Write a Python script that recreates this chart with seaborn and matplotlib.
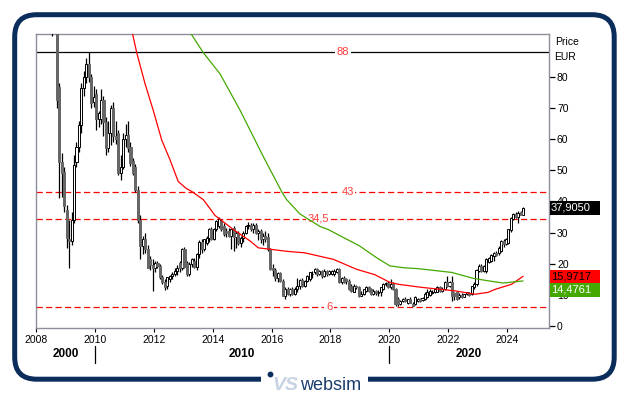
import numpy as np
import pandas as pd
import matplotlib
matplotlib.use("Agg")
import matplotlib.pyplot as plt
import matplotlib.transforms as mtransforms
from matplotlib.patches import FancyBboxPatch, Rectangle
import seaborn as sns

# monthly candles, Jul 2008 .. Jul 2024 (EUR)
first_month = "2008-07"
opens = [
    112, 108, 101, 76.8, 52.8, 49.6,
    37.4, 28.0, 27.3, 34.2, 52.8, 57.6, 64.5, 76.5, 80.0, 84.2, 80.0, 72.0,
    74.4, 66.4, 66.4, 72.5, 65.6, 57.2, 62.0, 70.0, 61.0, 61.9, 49.1, 51.2,
    60.0, 61.5, 57.6, 53.0, 51.0, 43.7, 34.2, 25.7, 28.0, 24.6, 21.4, 19.5,
    18.7, 20.3, 19.2, 15.6, 14.0, 13.0, 15.0, 16.1, 16.8, 17.7, 20.3, 18.7,
    24.6, 20.3, 16.6, 20.0, 21.0, 19.0, 23.0, 27.0, 24.6, 26.7, 28.3, 31.0,
    27.8, 31.0, 32.0, 33.6, 32.0, 30.5, 30.5, 29.0, 31.5, 28.6, 29.9, 26.7,
    28.3, 30.0, 32.0, 32.6, 31.0, 32.5, 30.0, 30.4, 28.0, 29.0, 28.5, 24.6,
    18.5, 17.9, 15.5, 17.0, 14.5, 9.7, 12.0, 10.3, 12.0, 10.4, 12.0, 12.8,
    14.9, 13.0, 14.5, 15.0, 16.7, 17.2, 18.2, 16.7, 17.6, 16.1, 17.6, 16.7,
    16.7, 16.8, 17.2, 18.2, 14.0, 15.5, 15.0, 14.5, 12.9, 11.0, 12.9, 12.4,
    9.7, 10.2, 11.3, 12.4, 11.9, 10.2, 11.3, 10.5, 10.8, 11.9, 13.4, 13.8,
    12.4, 13.4, 11.8, 8.6, 7.0, 8.1, 8.8, 7.5, 8.6, 7.0, 7.0, 8.0,
    8.6, 8.2, 8.6, 9.2, 10.0, 10.5, 10.8, 11.0, 12.4, 11.4, 11.8, 14.0,
    12.9, 14.0, 10.5, 10.8, 9.2, 10.0, 9.4, 10.2, 10.6, 10.2, 12.4, 13.4,
    17.7, 19.3, 17.7, 17.7, 20.5, 20.8, 22.5, 23.5, 23.5, 24.1, 27.3, 26.2,
    26.7, 30.7, 34.5, 36.0, 35.0, 36.5, 35.8,
]
highs = [
    118, 114, 104, 78.0, 55.5, 51.0,
    39.0, 34.0, 36.5, 55.0, 59.0, 66.0, 78.0, 82.0, 86.0, 88.0, 81.0, 77.0,
    76.0, 69.0, 76.0, 74.0, 67.0, 66.0, 71.0, 72.0, 66.0, 63.0, 55.0, 62.0,
    65.0, 66.0, 59.0, 54.0, 52.0, 45.0, 35.5, 29.0, 30.0, 26.0, 22.5, 21.4,
    21.0, 21.0, 20.0, 16.5, 15.0, 15.8, 16.5, 17.5, 18.5, 19.5, 21.0, 25.0,
    25.5, 21.0, 20.5, 22.0, 22.0, 23.6, 27.5, 28.0, 28.0, 29.0, 31.5, 31.8,
    31.5, 34.0, 35.0, 34.5, 33.0, 31.5, 31.5, 31.2, 32.0, 30.5, 30.5, 29.0,
    30.4, 32.6, 33.4, 33.2, 33.0, 33.0, 31.0, 31.0, 30.0, 30.4, 30.0, 25.0,
    20.0, 18.5, 17.5, 17.5, 15.0, 12.5, 12.4, 12.3, 12.5, 12.5, 15.5, 15.0,
    15.3, 14.8, 16.5, 17.5, 17.8, 18.5, 18.6, 18.0, 18.0, 18.2, 18.0, 18.0,
    18.0, 18.2, 18.6, 18.5, 15.8, 16.0, 15.5, 15.0, 13.5, 13.4, 13.2, 12.8,
    11.2, 12.0, 13.0, 12.8, 12.3, 11.8, 11.6, 11.5, 12.6, 13.9, 14.2, 14.3,
    15.0, 14.0, 12.2, 9.2, 8.4, 9.0, 9.2, 8.8, 9.2, 7.6, 9.5, 8.9,
    9.0, 9.3, 10.8, 11.8, 11.8, 11.5, 12.3, 12.8, 12.8, 12.5, 14.5, 16.0,
    14.5, 16.1, 11.0, 11.2, 10.5, 10.5, 10.4, 11.0, 11.0, 13.0, 14.0, 18.3,
    19.8, 19.8, 19.6, 21.8, 22.3, 23.2, 23.8, 24.0, 25.6, 27.5, 27.8, 28.3,
    31.3, 35.0, 36.4, 36.6, 36.8, 37.0, 38.2,
]
lows = [
    93.0, 96.0, 70.0, 41.0, 41.5, 36.5,
    25.0, 18.7, 26.0, 33.0, 51.0, 56.0, 62.0, 74.0, 78.0, 78.5, 70.0, 70.5,
    63.0, 64.0, 65.0, 61.0, 55.0, 56.0, 58.0, 59.0, 58.5, 48.5, 47.0, 50.5,
    57.5, 56.0, 51.5, 48.5, 43.0, 33.0, 21.4, 23.0, 23.5, 18.5, 18.0, 11.3,
    17.5, 18.5, 15.0, 13.5, 11.5, 11.8, 14.2, 15.0, 16.0, 16.5, 17.5, 18.0,
    18.5, 16.0, 16.0, 19.0, 18.5, 18.0, 22.0, 23.5, 24.0, 26.0, 27.0, 27.5,
    27.5, 30.5, 31.5, 30.5, 29.0, 28.5, 28.5, 24.6, 24.0, 25.0, 26.0, 25.5,
    27.0, 29.5, 31.0, 30.5, 30.0, 29.5, 27.5, 26.5, 26.0, 27.0, 24.0, 18.0,
    16.0, 14.5, 14.0, 14.0, 9.5, 8.6, 10.0, 9.5, 9.8, 9.8, 11.0, 12.0,
    12.4, 12.5, 14.0, 14.5, 15.5, 16.8, 16.2, 16.3, 15.5, 15.8, 16.2, 16.3,
    16.3, 16.2, 17.0, 13.8, 13.6, 13.8, 13.5, 11.5, 11.0, 10.8, 11.8, 9.4,
    9.5, 9.8, 11.0, 11.0, 10.0, 10.0, 10.0, 9.7, 9.7, 11.5, 12.8, 12.2,
    12.0, 11.5, 6.5, 6.5, 6.8, 7.6, 7.6, 7.2, 7.3, 6.3, 6.8, 7.6,
    7.8, 7.9, 8.4, 9.0, 9.6, 10.2, 10.5, 10.8, 11.0, 11.0, 11.6, 12.5,
    12.5, 8.1, 8.5, 8.2, 8.6, 9.0, 9.2, 9.8, 9.6, 10.0, 12.0, 13.0,
    17.3, 17.2, 17.3, 17.0, 20.2, 20.5, 21.0, 22.5, 22.8, 23.8, 25.5, 25.9,
    26.4, 30.2, 34.0, 34.7, 33.2, 35.5, 35.5,
]
closes = [
    108, 101, 72.5, 52.8, 49.0, 38.4,
    28.3, 27.3, 34.2, 51.8, 57.6, 64.5, 76.5, 80.0, 84.2, 80.0, 71.6, 73.5,
    66.4, 68.3, 72.5, 65.6, 57.2, 62.0, 70.0, 61.0, 60.0, 49.1, 51.2, 60.0,
    61.5, 57.2, 52.3, 49.1, 43.7, 34.2, 25.7, 28.0, 24.6, 18.7, 19.5, 18.7,
    20.3, 19.2, 15.6, 14.0, 12.4, 15.6, 16.1, 16.8, 17.7, 18.7, 18.7, 24.6,
    19.0, 16.6, 20.0, 21.4, 19.0, 23.0, 27.0, 24.6, 27.8, 28.3, 31.0, 27.8,
    31.0, 33.6, 34.5, 31.0, 29.4, 30.0, 29.0, 31.0, 28.6, 29.9, 26.7, 28.3,
    30.0, 32.0, 32.6, 31.0, 32.5, 30.0, 30.4, 28.0, 29.0, 27.8, 24.6, 18.2,
    17.9, 15.5, 17.0, 14.5, 9.7, 12.0, 10.3, 12.0, 10.4, 12.0, 12.8, 14.9,
    13.0, 14.5, 16.1, 17.2, 16.8, 18.2, 16.7, 17.6, 16.1, 17.6, 16.7, 17.6,
    17.6, 17.8, 18.2, 14.0, 15.5, 14.0, 14.5, 11.9, 11.3, 12.9, 12.4, 9.7,
    10.2, 11.8, 12.4, 11.3, 10.2, 11.3, 10.5, 11.0, 12.4, 13.4, 13.8, 12.4,
    13.4, 11.8, 7.0, 7.0, 8.1, 8.6, 7.9, 8.6, 7.5, 6.5, 9.2, 8.6,
    8.0, 9.0, 10.2, 10.8, 11.3, 11.0, 11.8, 12.4, 11.4, 12.0, 14.0, 12.9,
    14.0, 9.7, 9.7, 8.6, 10.0, 9.4, 10.2, 10.8, 10.0, 12.9, 13.4, 18.0,
    19.3, 17.7, 19.3, 21.4, 22.0, 22.9, 23.5, 22.9, 25.1, 27.3, 26.2, 27.8,
    31.0, 34.7, 36.0, 35.0, 36.3, 35.8, 37.905,
]

# moving averages (decimal year, EUR)
red_ma_t = [2011.23, 2011.42, 2011.70, 2011.98, 2012.27, 2012.55, 2012.83, 2013.10,
            2013.29, 2013.68, 2014.08, 2014.70, 2015.27, 2015.55, 2016.00, 2016.50,
            2017.13, 2018.10, 2018.89, 2019.50, 2020.02, 2020.30, 2021.10, 2022.22,
            2022.90, 2023.35, 2023.60, 2024.15, 2024.54]
red_ma_v = [96.0, 87.8, 77.9, 69.3, 59.7, 53.4, 46.4, 44.2,
            43.2, 40.6, 35.5, 31.0, 27.3, 25.1, 24.6, 24.0,
            23.5, 21.4, 18.2, 16.5, 14.0, 13.4, 12.4, 11.3,
            10.2, 10.8, 11.8, 13.4, 15.9717]
green_ma_t = [2013.12, 2013.68, 2014.25, 2014.93, 2015.72, 2016.34, 2016.51, 2016.96,
              2017.64, 2017.92, 2018.99, 2019.57, 2020.02, 2020.50, 2021.00, 2022.12,
              2022.85, 2023.30, 2023.86, 2024.54]
green_ma_v = [96.0, 87.8, 81.0, 69.3, 54.4, 43.2, 40.6, 36.0,
              32.0, 31.0, 25.7, 21.9, 19.3, 18.7, 18.4, 17.2,
              15.3, 14.6, 13.8, 14.4761]

levels = [88, 43, 34.5, 6]
level_labels = ["88", "43", "34,5", "6"]
level_label_x = [2018.42, 2018.58, 2017.58, 2017.95]
decade_labels = ["2000", "2010", "2020"]
decade_label_x = [2009.0, 2015.0, 2022.7]
decade_breaks = [2010, 2020]

NAVY = "#0b2d5b"
RED = "#ff0000"
GREEN = "#44a800"

sns.set_theme(style="white")
plt.rcParams["font.family"] = ["Liberation Sans", "DejaVu Sans"]

fig = plt.figure(figsize=(6.29, 3.95), dpi=100)

# background layer in pixel units: rounded frame + logo
bg = fig.add_axes([0, 0, 1, 1], zorder=0)
bg.set_xlim(0, 629)
bg.set_ylim(395, 0)
bg.axis("off")
bg.add_patch(FancyBboxPatch((14.7, 14.7), 599.5, 364.5,
                            boxstyle="round,pad=0,rounding_size=22",
                            fill=False, ec=NAVY, lw=3.6))
bg.add_patch(Rectangle((260.5, 371), 107.5, 14, fc="white", ec="none"))
bg.plot([270], [373.5], "o", ms=3.2, color=NAVY)
bg.text(272, 390, "VS", fontsize=14, fontweight="bold", fontstyle="italic",
        color="#c6d3e3", va="baseline", ha="left")
bg.text(300.5, 390, "websim", fontsize=13, color="#1b3c6e", va="baseline", ha="left")

# main chart
ax = fig.add_axes([36 / 629, 1 - 327.7 / 395, 513.3 / 629, 293.7 / 395], zorder=1)

months = pd.period_range(first_month, periods=len(closes), freq="M")
x = months.year.values + (months.month.values - 0.5) / 12
o = np.array(opens, dtype=float)
h = np.array(highs, dtype=float)
l = np.array(lows, dtype=float)
c = np.array(closes, dtype=float)
up = c >= o

ax.vlines(x, l, h, color="black", lw=0.9, zorder=3)
ax.bar(x[up], (c - o)[up], bottom=o[up], width=0.07, color="white",
       edgecolor="black", linewidth=0.7, zorder=4)
ax.bar(x[~up], (o - c)[~up], bottom=c[~up], width=0.07, color="#666666",
       edgecolor="#666666", linewidth=0.7, zorder=4)

sns.lineplot(x=red_ma_t, y=red_ma_v, ax=ax, color=RED, lw=0.9, zorder=5,
             sort=False, legend=False)
sns.lineplot(x=green_ma_t, y=green_ma_v, ax=ax, color=GREEN, lw=0.9, zorder=5,
             sort=False, legend=False)

for lev, lab, lx in zip(levels, level_labels, level_label_x):
    if lev == 88:
        ax.axhline(lev, color="black", lw=0.9, zorder=2)
    else:
        ax.axhline(lev, color=RED, lw=0.9, ls=(0, (5, 2.6)), zorder=2)
    ax.text(lx, lev, lab, color="#ff3b3b", fontsize=8, ha="center", va="center",
            bbox=dict(fc="white", ec="none", pad=1.2), zorder=2.5)

ax.set_xlim(2008, 2025.43)
ax.set_ylim(-0.55, 93.8)
ax.set_xlabel("")
ax.set_ylabel("")

for s in ax.spines.values():
    s.set_visible(True)
    s.set_color("#8e8e9e")
    s.set_linewidth(1.0)

ax.yaxis.tick_right()
ax.set_yticks(range(0, 81, 10))
ax.tick_params(axis="y", which="major", direction="out", length=4, width=0.9,
               color="black", labelcolor="black", labelsize=7.5, pad=1.5,
               right=True, left=False)
ax.set_xticks(range(2008, 2025, 2))
ax.tick_params(axis="x", which="major", direction="out", length=3, width=0.8,
               color="black", labelcolor="black", labelsize=7.5, pad=2,
               bottom=True)

xt = ax.get_xaxis_transform()
for lab, lx in zip(decade_labels, decade_label_x):
    ax.text(lx, -0.0895, lab, transform=xt, ha="center", va="center",
            fontsize=8.5, fontweight="bold", color="black", clip_on=False)
for bx in decade_breaks:
    ax.plot([bx, bx], [-0.064, -0.119], transform=xt, color="black", lw=0.9,
            clip_on=False)

ax.text(1.012, 0.9727, "Price", transform=ax.transAxes, ha="left", va="center",
        fontsize=7.5, color="black")
ax.text(1.010, 0.920, "EUR", transform=ax.transAxes, ha="left", va="center",
        fontsize=7.5, color="black")

# value boxes on the right scale (they cover the 40 and 10 labels, as in the original)
yt = mtransforms.blended_transform_factory(ax.transAxes, ax.transData)
box_h = 4.34
boxes = [
    (closes[-1], "black", "white"),
    (red_ma_v[-1], RED, "black"),
    (red_ma_v[-1] - box_h, GREEN, "white"),
]
box_text = [closes[-1], red_ma_v[-1], green_ma_v[-1]]
for (yc, fc, tc), val in zip(boxes, box_text):
    ax.add_patch(Rectangle((1.0015, yc - box_h / 2), 0.0975, box_h, transform=yt,
                           fc=fc, ec="none", clip_on=False, zorder=10))
    ax.text(1.003, yc, f"{val:.4f}".replace(".", ","), transform=yt, ha="left",
            va="center", fontsize=8, color=tc, clip_on=False, zorder=11)

fig.savefig("out.png", dpi=100)
